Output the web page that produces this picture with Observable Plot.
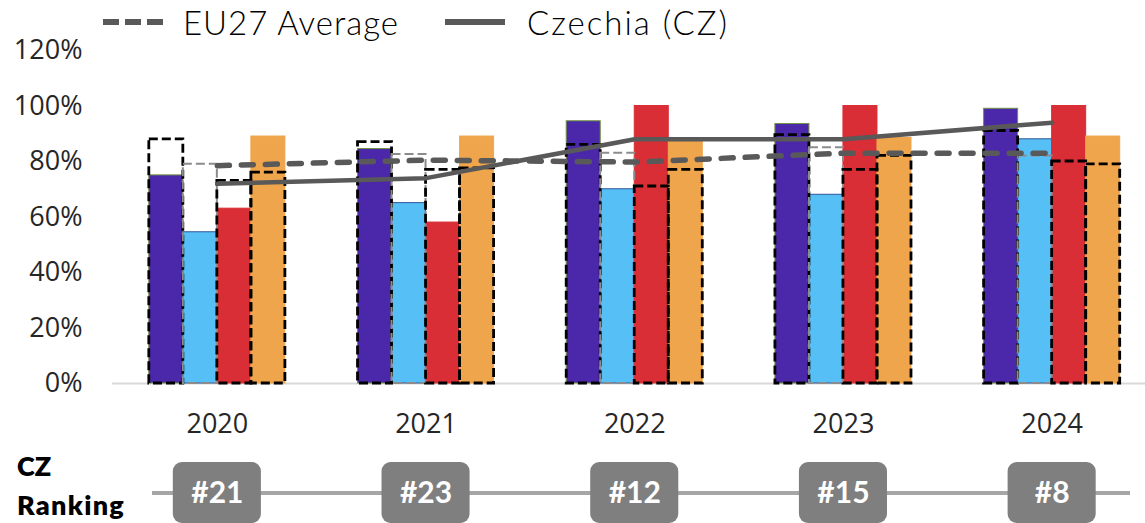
<!DOCTYPE html>
<html><head><meta charset="utf-8">
<script src="https://cdn.jsdelivr.net/npm/d3@7"></script>
<script src="https://cdn.jsdelivr.net/npm/@observablehq/plot@0.6"></script>
<style>
body{margin:0;background:#fff;}
#wrap{position:relative;width:1145px;height:523px;overflow:hidden;}
#main{position:absolute;left:0;top:0;}
#rank{position:absolute;left:0;top:440px;}
#legend{position:absolute;left:0;top:0;}
.lbl{position:absolute;left:17px;font-family:Lato,sans-serif;font-weight:800;font-size:27px;color:#000;line-height:1;}
</style></head>
<body><div id="wrap">
<div id="main"></div>
<div id="rank"></div>
<svg id="legend" width="760" height="46" font-family="Lato, sans-serif" font-size="33" font-weight="300" fill="#000">
  <line x1="103" x2="163" y1="22" y2="22" stroke="#595959" stroke-width="6" stroke-dasharray="16,6"></line>
  <text x="183" y="22" dominant-baseline="central" textLength="215">EU27 Average</text>
  <line x1="445" x2="505" y1="22" y2="22" stroke="#595959" stroke-width="6"></line>
  <text x="527" y="22" dominant-baseline="central" textLength="200">Czechia (CZ)</text>
</svg>
<div class="lbl" style="top:452px">CZ</div>
<div class="lbl" style="top:491px;letter-spacing:1.3px">Ranking</div>
</div>
<script>
const years = ["2020", "2021", "2022", "2023", "2024"];
const seriesKeys = ["s1", "s2", "s3", "s4"];
const colors = ["#4b27a9", "#56bff5", "#d92e35", "#efa54b"];
const barStrokes = ["#6f9440", "#2f5597", "#d92e35", "#efa54b"];
// Czechia values per series (%)
const czS1 = [75, 84.5, 94.5, 93.5, 99];
const czS2 = [54.5, 65, 70, 68, 88];
const czS3 = [63, 58, 100, 100, 100];
const czS4 = [89, 89, 88, 88.5, 89];
// EU27 values per series (%), dashed outlines
const euS1 = [88, 87, 86, 89.5, 91];
const euS2 = [79, 82.5, 83, 85, 82];
const euS3 = [73, 77, 71, 77, 80];
const euS4 = [76, 77.5, 77, 82, 79];
// overall lines (%)
const euAverage = [78.5, 80.5, 79.8, 83, 83];
const czechia = [72, 74, 88, 88, 94];
// CZ ranking
const ranks = [21, 23, 12, 15, 8];
const yTicks = [0, 20, 40, 60, 80, 100, 120];

const czAll = [czS1, czS2, czS3, czS4];
const euAll = [euS1, euS2, euS3, euS4];
const rows = [];
seriesKeys.forEach((s, k) => years.forEach((y, i) => rows.push({i, k, cz: czAll[k][i], eu: euAll[k][i]})));
const lineRows = years.map((y, i) => ({i, eu: euAverage[i], cz: czechia[i]}));
const rankRows = years.map((y, i) => ({i, rank: ranks[i]}));

const bw = 0.163, half = 2 * bw;
const X1 = d => d.i - half + d.k * bw;
const X2 = d => d.i - half + (d.k + 1) * bw;
const xScale = {type: "linear", domain: [-0.5, 4.5], range: [112.5, 1156]};

const main = Plot.plot({
  width: 1145, height: 440,
  marginTop: 50, marginBottom: 57, marginLeft: 112, marginRight: 0,
  style: {background: "transparent", overflow: "visible"},
  x: xScale,
  y: {domain: [0, 120]},
  marks: [
    Plot.axisY(yTicks, {tickSize: 0, tickPadding: 30, tickFormat: d => d + "%", fontSize: 27, fontFamily: "Open Sans", fill: "#262626", label: null}),
    Plot.axisX([0, 1, 2, 3, 4], {tickSize: 0, tickPadding: 30, tickFormat: i => years[i], fontSize: 27, fontFamily: "Open Sans", fill: "#262626", label: null}),
    Plot.ruleY([0], {stroke: "#d9d9d9", strokeWidth: 2}),
    ...seriesKeys.map((s, k) => Plot.rectY(rows.filter(r => r.k === k), {
      x1: X1, x2: X2, y: "cz", fill: colors[k], stroke: barStrokes[k], strokeWidth: 1
    })),
    ...seriesKeys.map((s, k) => Plot.rectY(rows.filter(r => r.k === k), {
      x1: X1, x2: X2, y: "eu", fill: "none",
      stroke: k === 1 ? "#8c8c8c" : "#000",
      strokeWidth: k === 1 ? 2 : 2.8,
      strokeDasharray: "9,4"
    })),
    Plot.line(lineRows, {x: "i", y: "eu", stroke: "#595959", strokeWidth: 5.5, strokeDasharray: "12,12", strokeLinecap: "round"}),
    Plot.line(lineRows, {x: "i", y: "cz", stroke: "#595959", strokeWidth: 4.5})
  ]
});
document.getElementById("main").appendChild(main);

const rank = Plot.plot({
  width: 1145, height: 83,
  marginTop: 22, marginBottom: 0, marginLeft: 152, marginRight: 15,
  style: {background: "transparent", overflow: "visible"},
  x: {...xScale, axis: null},
  y: {domain: [-1, 1], axis: null},
  marks: [
    Plot.ruleY([0], {stroke: "#a6a6a6", strokeWidth: 4}),
    Plot.rect(rankRows, {x1: d => d.i - 0.211, x2: d => d.i + 0.211, y1: -1, y2: 1, fill: "#7f7f7f", rx: 9}),
    Plot.text(rankRows, {x: "i", y: 0, text: d => "#" + d.rank, fill: "#fff", fontSize: 30, fontWeight: 700, fontFamily: "Lato"})
  ]
});
document.getElementById("rank").appendChild(rank);
</script>
</body></html>
